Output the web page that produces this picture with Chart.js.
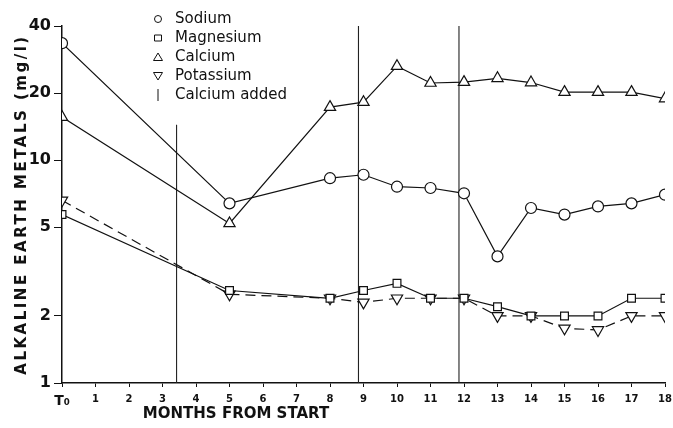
<!DOCTYPE html>
<html>
<head>
<meta charset="utf-8">
<script src="https://cdn.jsdelivr.net/npm/chart.js@4"></script>
<style>
html,body{margin:0;padding:0;background:#fff;}
#wrap{width:673px;height:428px;position:relative;}
</style>
</head>
<body>
<div id="wrap"><canvas id="c" width="673" height="428"></canvas></div>
<script>
const months = [0, 5, 8, 9, 10, 11, 12, 13, 14, 15, 16, 17, 18];
const sodium = [33.5, 6.4, 8.3, 8.6, 7.6, 7.5, 7.1, 3.7, 6.1, 5.7, 6.2, 6.4, 7.0];
const magnesium = [5.7, 2.6, 2.4, 2.6, 2.8, 2.4, 2.4, 2.2, 2.0, 2.0, 2.0, 2.4, 2.4];
const calcium = [15.6, 5.2, 17.3, 18.2, 26.4, 22.2, 22.4, 23.3, 22.3, 20.2, 20.2, 20.2, 18.9];
const potassium = [6.6, 2.5, 2.4, 2.3, 2.4, 2.4, 2.4, 2.0, 2.0, 1.76, 1.73, 2.0, 2.0];
const calciumAddedMonths = [3.42, 8.85, 11.85];
const calciumAddedTops = [14.4, 40, 40];
const yTickValues = [1, 2, 5, 10, 20, 40];
const xTickLabels = ['T\u2080','1','2','3','4','5','6','7','8','9','10','11','12','13','14','15','16','17','18'];
const legendLabels = ['Sodium', 'Magnesium', 'Calcium', 'Potassium', 'Calcium added'];
const yTitle = 'ALKALINE EARTH METALS (mg/l)';
const xTitle = 'MONTHS FROM START';

const FONT = '"DejaVu Sans", sans-serif';

function pts(arr){ return months.map((m,i)=>({x:m, y:arr[i]})); }

function series(label, arr, style, dash, radius){
  return {
    label, data: pts(arr), borderColor:'#111', borderWidth:1.2,
    borderDash: dash || [], pointStyle: style, pointRadius: radius,
    pointBackgroundColor:'#fff', pointBorderColor:'#111', pointBorderWidth:1.2,
    tension:0, fill:false, order:1
  };
}

const datasets = [
  series('Sodium', sodium, 'circle', null, 5.5),
  series('Magnesium', magnesium, 'rect', null, 5.5),
  series('Calcium', calcium, 'triangle', null, 6.5),
  series('Potassium', potassium, 'triangle', [10,6], 6.5),
];
datasets[3].pointRotation = 180;

calciumAddedMonths.forEach((m,i)=>{
  datasets.push({
    label:'Calcium added', data:[{x:m,y:1},{x:m,y:calciumAddedTops[i]}],
    borderColor:'#222', borderWidth:1.1, pointRadius:0, fill:false, order:2
  });
});

const extras = {
  id:'extras',
  afterDraw(chart){
    const ctx = chart.ctx;
    const area = chart.chartArea;
    ctx.save();
    ctx.fillStyle = '#111';
    // x-axis title
    ctx.font = 'bold 15px ' + FONT;
    ctx.textAlign = 'center';
    ctx.textBaseline = 'middle';
    ctx.fillText(xTitle, 236, 414);
    // y-axis title
    ctx.save();
    ctx.translate(22, (area.top + area.bottom)/2);
    ctx.rotate(-Math.PI/2);
    ctx.font = 'bold 15px ' + FONT;
    try { ctx.letterSpacing = '2.5px'; } catch(e){}
    ctx.textAlign = 'center';
    ctx.fillText(yTitle, 0, 0);
    ctx.restore();
    // legend
    const lx = 158, tx = 175;
    ctx.font = '15px ' + FONT;
    ctx.textAlign = 'left';
    ctx.strokeStyle = '#111';
    ctx.lineWidth = 1;
    legendLabels.forEach((lab,i)=>{
      const y = 19 + i*19;
      ctx.fillStyle = '#111';
      ctx.fillText(lab, tx, y);
      ctx.beginPath();
      if(i===0){ ctx.arc(lx, y, 3.5, 0, Math.PI*2); }
      else if(i===1){ ctx.rect(lx-3.5, y-3, 7, 6); }
      else if(i===2){ ctx.moveTo(lx, y-4); ctx.lineTo(lx+4.5, y+3.5); ctx.lineTo(lx-4.5, y+3.5); ctx.closePath(); }
      else if(i===3){ ctx.moveTo(lx, y+4); ctx.lineTo(lx+4.5, y-3.5); ctx.lineTo(lx-4.5, y-3.5); ctx.closePath(); }
      else { ctx.moveTo(lx, y-6); ctx.lineTo(lx, y+6); }
      ctx.stroke();
    });
    ctx.restore();
  }
};

new Chart(document.getElementById('c'), {
  type:'line',
  data:{ datasets },
  options:{
    responsive:false, animation:false, devicePixelRatio:1,
    layout:{ padding:{ top:26, right:8, left:0, bottom:0 } },
    plugins:{ legend:{display:false}, tooltip:{enabled:false} },
    scales:{
      x:{
        type:'linear', min:0, max:18,
        afterBuildTicks(s){ s.ticks = xTickLabels.map((_,i)=>({value:i})); },
        afterFit(s){ s.height = 45; s.paddingRight = 0; s.paddingLeft = 0; },
        ticks:{
          autoSkip:false, maxRotation:0, color:'#111', padding:6,
          callback:(v)=>xTickLabels[v],
          font:(c)=> c.tick && c.tick.value===0 ? {family:FONT, size:14, weight:'bold'} : {family:FONT, size:10, weight:'bold'}
        },
        grid:{ drawOnChartArea:false, tickLength:4, color:'#111', lineWidth:1 },
        border:{ display:true, color:'#111', width:1.5 }
      },
      y:{
        type:'logarithmic', min:1, max:40,
        afterBuildTicks(s){ s.ticks = yTickValues.map(v=>({value:v})); },
        afterFit(s){ s.width = 62; s.paddingTop = 0; s.paddingBottom = 0; },
        ticks:{ color:'#111', padding:3, font:{family:FONT, size:16, weight:'bold'}, callback:(v)=>String(v) },
        grid:{ drawOnChartArea:false, tickLength:8, color:'#111', lineWidth:1 },
        border:{ display:true, color:'#111', width:1.5 }
      }
    }
  },
  plugins:[extras]
});
</script>
</body>
</html>
